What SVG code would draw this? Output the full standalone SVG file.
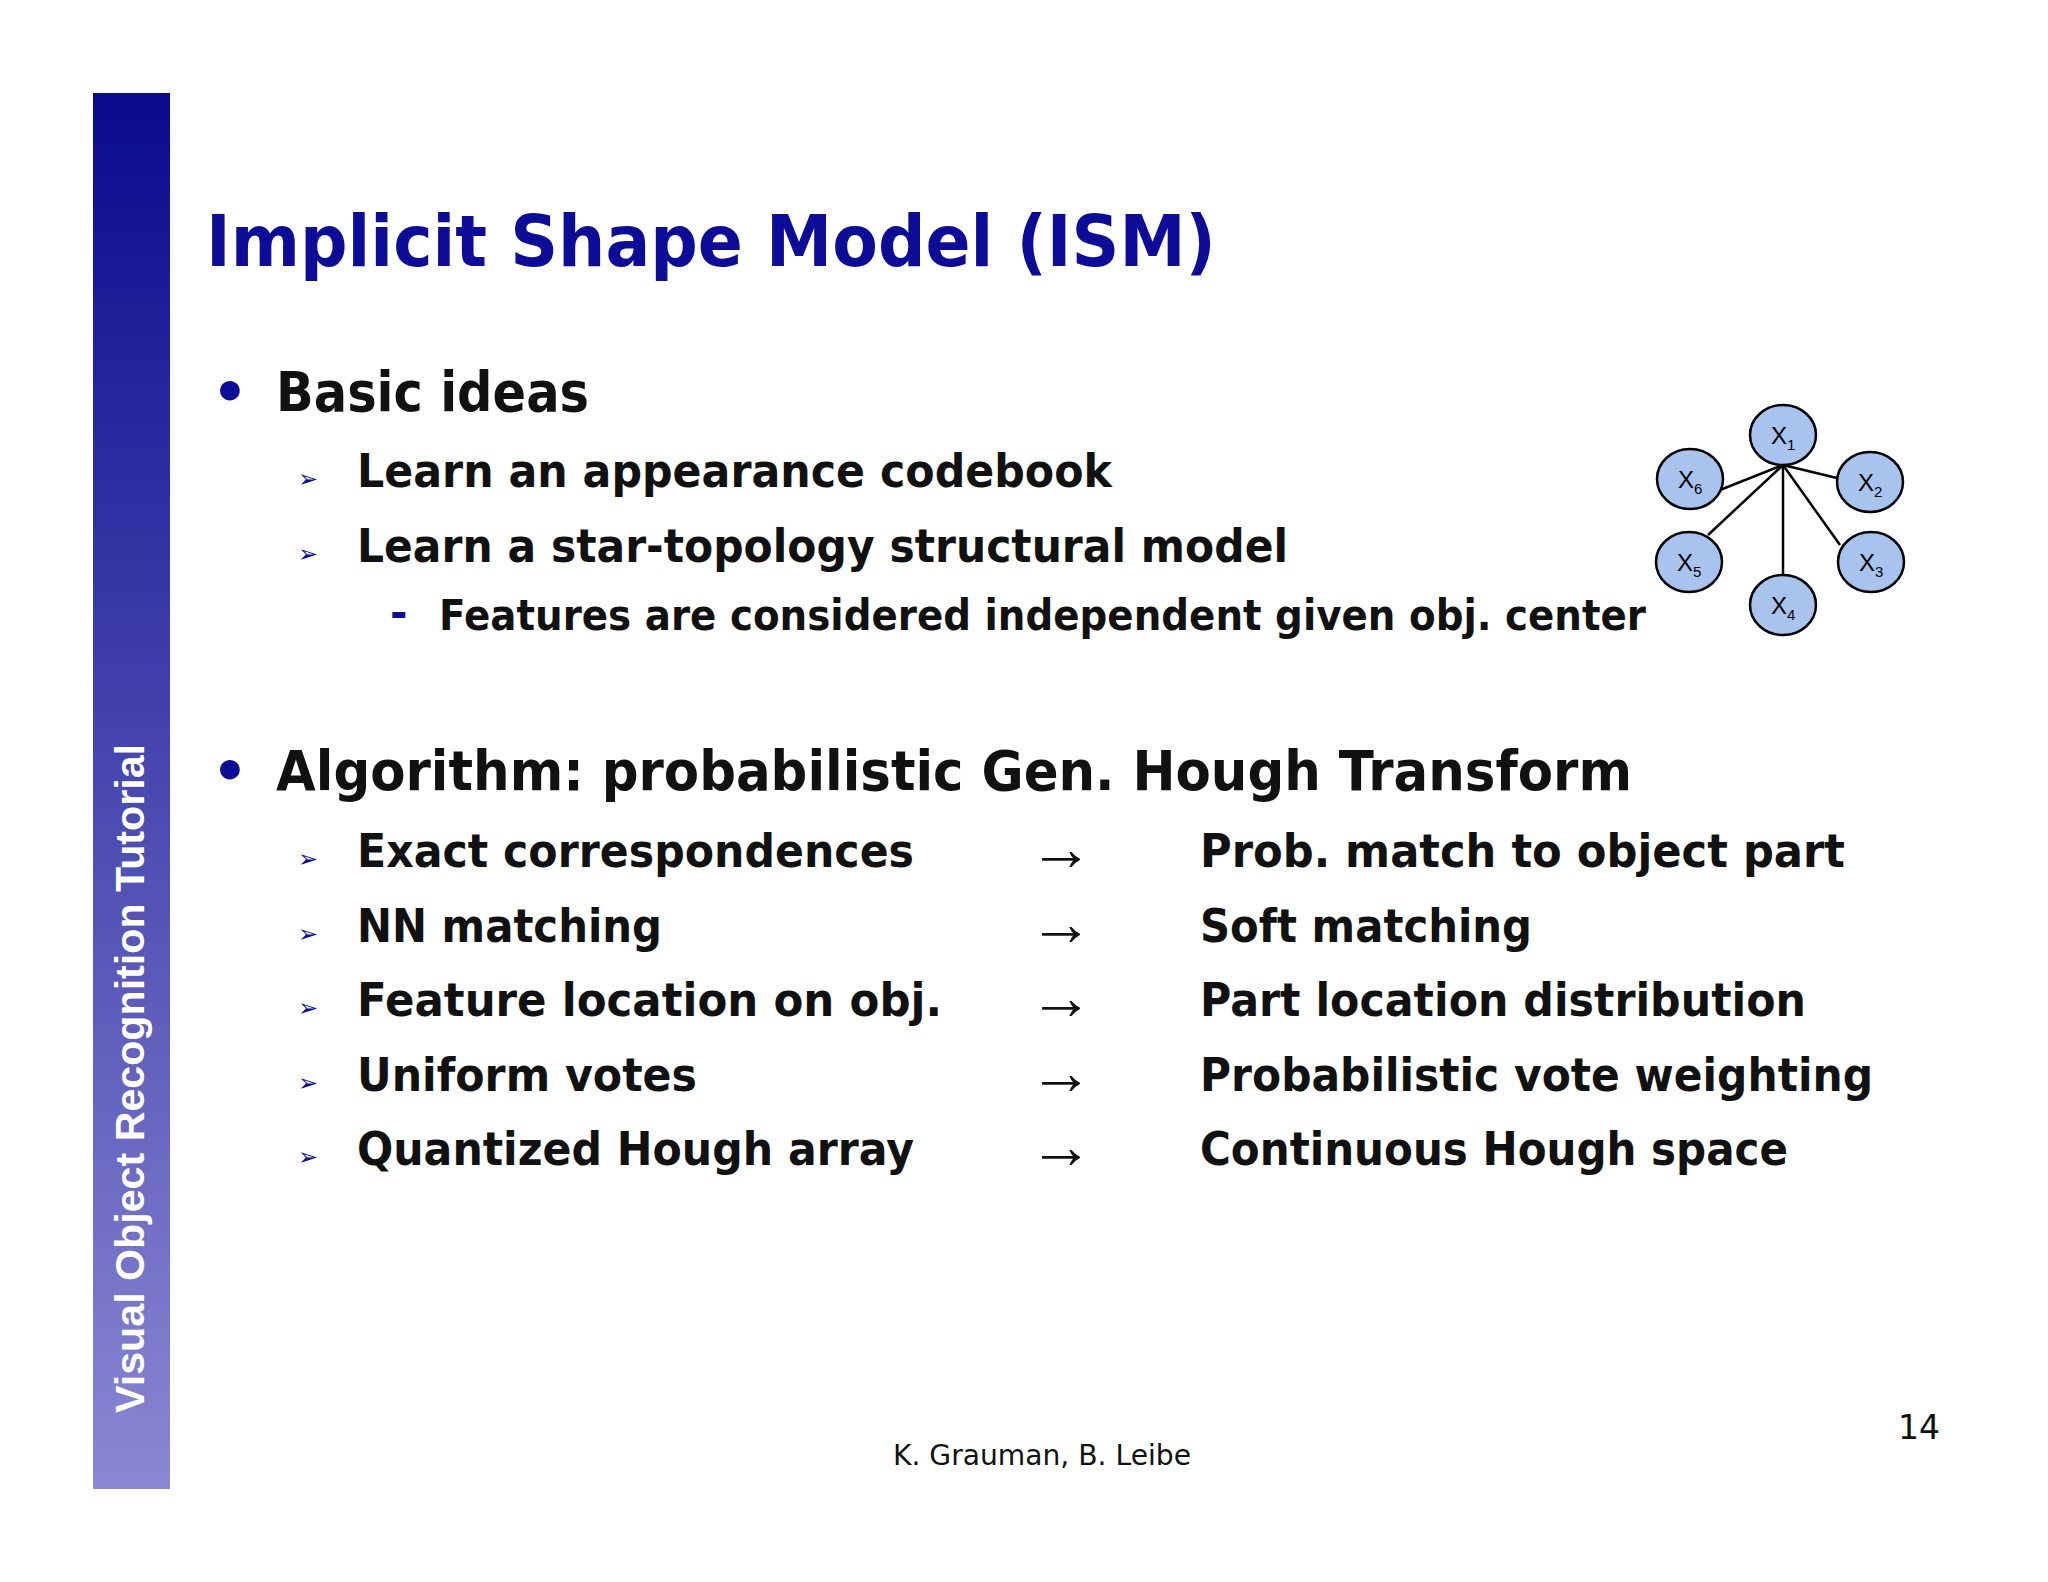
<svg xmlns="http://www.w3.org/2000/svg" width="2048" height="1582" viewBox="0 0 2048 1582">
<defs>
<linearGradient id="side" x1="0" y1="0" x2="0" y2="1">
<stop offset="0" stop-color="#0a0a8e"/>
<stop offset="1" stop-color="#8a88d2"/>
</linearGradient>
<style>
.t{font-family:"DejaVu Sans","Liberation Sans",sans-serif;fill:#111;font-weight:bold}
.b{font-size:56px}
.s{font-size:47px}
.ss{font-size:42px}
.ar{font-family:"Liberation Serif",serif;font-weight:normal;font-size:64px}
.bu{fill:#0c0c96}
.n{fill:#a8c4ee;stroke:#000;stroke-width:2.5}
.nl{font-family:"Liberation Sans",Arial,sans-serif;font-size:24px;fill:#000}
.sub{font-size:15px}
.e{stroke:#000;stroke-width:2.5}
</style>
</defs>
<rect width="2048" height="1582" fill="#ffffff"/>
<rect x="93" y="93" width="77" height="1396" fill="url(#side)"/>
<text transform="translate(144,1413) rotate(-90)" font-family="Liberation Sans,Arial,sans-serif" font-weight="bold" font-size="40" fill="#ffffff" textLength="669" lengthAdjust="spacingAndGlyphs">Visual Object Recognition Tutorial</text>
<text x="206" y="266" font-family="DejaVu Sans,sans-serif" font-weight="bold" font-size="72" fill="#0c0c96" textLength="1010" lengthAdjust="spacingAndGlyphs">Implicit Shape Model (ISM)</text>

<text class="t b bu" x="212" y="411">•</text>
<text class="t b" x="276" y="411" textLength="313" lengthAdjust="spacingAndGlyphs">Basic ideas</text>
<text class="t bu" x="298" y="487" font-size="24">➢</text>
<text class="t s" x="357" y="487" textLength="755" lengthAdjust="spacingAndGlyphs">Learn an appearance codebook</text>
<text class="t bu" x="298" y="562" font-size="24">➢</text>
<text class="t s" x="357" y="562" textLength="931" lengthAdjust="spacingAndGlyphs">Learn a star-topology structural model</text>
<text class="t ss bu" x="390" y="627" font-weight="normal">-</text>
<text class="t ss" x="439" y="630" textLength="1207" lengthAdjust="spacingAndGlyphs">Features are considered independent given obj. center</text>

<text class="t b bu" x="212" y="790">•</text>
<text class="t b" x="276" y="790" textLength="1356" lengthAdjust="spacingAndGlyphs">Algorithm: probabilistic Gen. Hough Transform</text>

<g class="t s">
<text class="bu" x="298" y="867" font-size="24">➢</text>
<text x="357" y="867" textLength="557" lengthAdjust="spacingAndGlyphs">Exact correspondences</text>
<text class="ar" x="1029" y="870">→</text>
<text x="1200" y="867" textLength="645" lengthAdjust="spacingAndGlyphs">Prob. match to object part</text>
<text class="bu" x="298" y="942" font-size="24">➢</text>
<text x="357" y="942" textLength="305" lengthAdjust="spacingAndGlyphs">NN matching</text>
<text class="ar" x="1029" y="945">→</text>
<text x="1200" y="942" textLength="332" lengthAdjust="spacingAndGlyphs">Soft matching</text>
<text class="bu" x="298" y="1016" font-size="24">➢</text>
<text x="357" y="1016" textLength="585" lengthAdjust="spacingAndGlyphs">Feature location on obj.</text>
<text class="ar" x="1029" y="1019">→</text>
<text x="1200" y="1016" textLength="606" lengthAdjust="spacingAndGlyphs">Part location distribution</text>
<text class="bu" x="298" y="1091" font-size="24">➢</text>
<text x="357" y="1091" textLength="340" lengthAdjust="spacingAndGlyphs">Uniform votes</text>
<text class="ar" x="1029" y="1094">→</text>
<text x="1200" y="1091" textLength="673" lengthAdjust="spacingAndGlyphs">Probabilistic vote weighting</text>
<text class="bu" x="298" y="1165" font-size="24">➢</text>
<text x="357" y="1165" textLength="557" lengthAdjust="spacingAndGlyphs">Quantized Hough array</text>
<text class="ar" x="1029" y="1168">→</text>
<text x="1200" y="1165" textLength="588" lengthAdjust="spacingAndGlyphs">Continuous Hough space</text>
</g>

<g id="connectors">
<line class="e" x1="1783" y1="465" x2="1720" y2="490"/>
<line class="e" x1="1783" y1="465" x2="1708" y2="535"/>
<line class="e" x1="1783" y1="465" x2="1783" y2="577"/>
<line class="e" x1="1783" y1="465" x2="1840" y2="545"/>
<line class="e" x1="1783" y1="465" x2="1837" y2="478"/>
</g>
<g id="x1"><ellipse class="n" cx="1783" cy="435" rx="33" ry="30"/><text class="nl" x="1771" y="444">X<tspan class="sub" dy="6">1</tspan></text></g>
<g id="x2"><ellipse class="n" cx="1870" cy="482" rx="33" ry="30"/><text class="nl" x="1858" y="491">X<tspan class="sub" dy="6">2</tspan></text></g>
<g id="x3"><ellipse class="n" cx="1871" cy="562" rx="33" ry="30"/><text class="nl" x="1859" y="571">X<tspan class="sub" dy="6">3</tspan></text></g>
<g id="x4"><ellipse class="n" cx="1783" cy="605" rx="33" ry="30"/><text class="nl" x="1771" y="614">X<tspan class="sub" dy="6">4</tspan></text></g>
<g id="x5"><ellipse class="n" cx="1689" cy="562" rx="33" ry="30"/><text class="nl" x="1677" y="571">X<tspan class="sub" dy="6">5</tspan></text></g>
<g id="x6"><ellipse class="n" cx="1690" cy="479" rx="33" ry="30"/><text class="nl" x="1678" y="488">X<tspan class="sub" dy="6">6</tspan></text></g>

<text x="893" y="1465" font-family="DejaVu Sans,sans-serif" font-size="28" fill="#111" textLength="298" lengthAdjust="spacingAndGlyphs">K. Grauman, B. Leibe</text>
<text x="1898" y="1439" font-family="DejaVu Sans,sans-serif" font-size="33" fill="#111">14</text>
</svg>
